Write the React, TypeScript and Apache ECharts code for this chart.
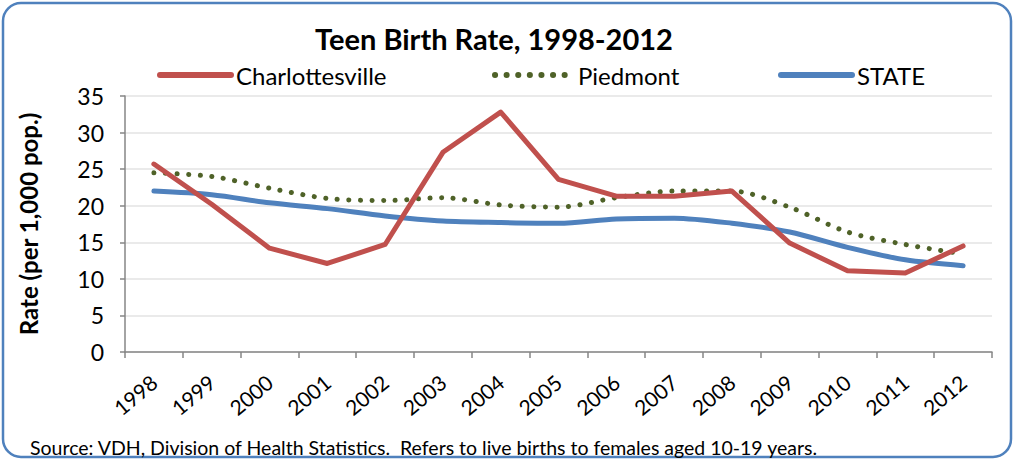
import React, { useEffect, useRef } from "react";
import * as echarts from "echarts";

const years = ["1998","1999","2000","2001","2002","2003","2004","2005","2006","2007","2008","2009","2010","2011","2012"];
const charlottesville = [25.7, 20.2, 14.2, 12.1, 14.7, 27.3, 32.8, 23.6, 21.3, 21.3, 22.0, 14.9, 11.1, 10.8, 14.5];
const piedmont = [24.5, 24.0, 22.4, 21.0, 20.7, 21.1, 20.1, 19.8, 21.1, 22.0, 22.0, 19.8, 16.4, 14.7, 13.4];
const state = [22.0, 21.5, 20.4, 19.6, 18.6, 17.9, 17.7, 17.6, 18.2, 18.3, 17.6, 16.4, 14.3, 12.6, 11.8];

const FONT = "Lato, 'Open Sans', sans-serif";

export default function App() {
  const ref = useRef<HTMLDivElement>(null);
  useEffect(() => {
    document.body.style.margin = "0";
    const chart = echarts.init(ref.current!, null, { renderer: "svg" });
    const legendBase = {
      top: 58,
      itemHeight: 1,
      itemGap: 5,
      textStyle: { fontSize: 24, color: "#000", fontFamily: FONT },
      lineStyle: { width: 6 },
    };
    chart.setOption({
      animation: false,
      textStyle: { fontFamily: FONT },
      graphic: [
        {
          type: "rect",
          shape: { x: 3, y: 3, width: 1008, height: 454, r: 18 },
          style: { fill: "none", stroke: "#4F81BD", lineWidth: 2.5 },
          silent: true,
        },
        {
          type: "text",
          x: 494,
          y: 38,
          style: { text: "Teen Birth Rate, 1998-2012", font: `bold 29px ${FONT}`, fill: "#000", align: "center", verticalAlign: "middle" },
        },
        {
          type: "text",
          x: 30,
          y: 447,
          style: { text: "Source: VDH, Division of Health Statistics.  Refers to live births to females aged 10-19 years.", font: `19.5px ${FONT}`, fill: "#000", align: "left", verticalAlign: "middle" },
        },
      ],
      legend: [
        { ...legendBase, data: ["Charlottesville"], left: 152, itemWidth: 71 },
        { ...legendBase, data: ["Piedmont"], left: 487, itemWidth: 78 },
        { ...legendBase, data: ["STATE"], left: 773, itemWidth: 71 },
      ],
      grid: { left: 125, right: 23, top: 96, bottom: 110 },
      xAxis: {
        type: "category",
        data: years,
        boundaryGap: true,
        axisLine: { lineStyle: { color: "#868686", width: 1.5 } },
        axisTick: { show: true, length: 6, lineStyle: { color: "#868686", width: 1.5 } },
        axisLabel: { interval: 0, rotate: 40, fontSize: 21, color: "#000", margin: 27, fontFamily: FONT },
      },
      yAxis: {
        type: "value",
        min: 0,
        max: 35,
        interval: 5,
        name: "Rate (per 1,000 pop.)",
        nameLocation: "middle",
        nameGap: 85,
        nameRotate: 90,
        nameTextStyle: { fontSize: 24, fontWeight: "bold", color: "#000", fontFamily: FONT },
        axisLine: { show: true, lineStyle: { color: "#868686", width: 1.5 } },
        axisTick: { show: true, length: 5, lineStyle: { color: "#868686", width: 1.5 } },
        axisLabel: { fontSize: 23, color: "#000", margin: 21, fontFamily: FONT },
        splitLine: { lineStyle: { color: "#E3E3E3", width: 1.5 } },
      },
      series: [
        {
          name: "Charlottesville",
          type: "line",
          data: charlottesville,
          symbol: "none",
          lineStyle: { color: "#C0504D", width: 5, cap: "round", join: "round" },
          itemStyle: { color: "#C0504D" },
          z: 3,
        },
        {
          name: "Piedmont",
          type: "line",
          data: piedmont,
          symbol: "none",
          smooth: 0.3,
          lineStyle: { color: "#4F6228", width: 5, type: [0.1, 11.5], cap: "round" },
          itemStyle: { color: "#4F6228" },
          z: 2,
        },
        {
          name: "STATE",
          type: "line",
          data: state,
          symbol: "none",
          smooth: 0.3,
          lineStyle: { color: "#4F81BD", width: 5, cap: "round", join: "round" },
          itemStyle: { color: "#4F81BD" },
          z: 1,
        },
      ],
    });
    return () => chart.dispose();
  }, []);
  return <div ref={ref} style={{ width: 1015, height: 462 }} />;
}
